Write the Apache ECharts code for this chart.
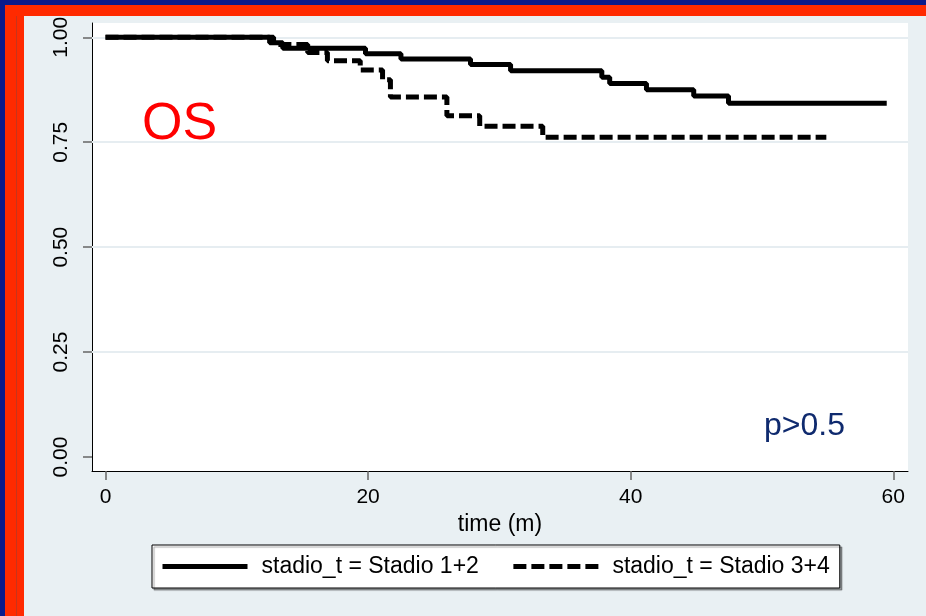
<!DOCTYPE html>
<html>
<head>
<meta charset="utf-8">
<script src="https://cdn.jsdelivr.net/npm/echarts@6/dist/echarts.min.js"></script>
<style>
html,body{margin:0;padding:0;background:#e9f0f3;}
#c{width:926px;height:616px;}
</style>
</head>
<body>
<div id="c"></div>
<script>
// Kaplan-Meier OS curves
var seriesNames = ['stadio_t = Stadio 1+2', 'stadio_t = Stadio 3+4'];
var timeStadio12 = [0, 12.5, 13.5, 19.8, 22.5, 27.8, 30.85, 37.8, 38.4, 41.2, 44.8, 47.45, 59.5];
var survStadio12 = [1.0, 0.987, 0.974, 0.961, 0.948, 0.935, 0.920, 0.905, 0.890, 0.875, 0.860, 0.843, 0.843];
var timeStadio34 = [0, 12.8, 15.4, 16.9, 19.4, 21.1, 21.7, 26.0, 28.5, 33.3, 54.9];
var survStadio34 = [1.0, 0.983, 0.964, 0.944, 0.922, 0.899, 0.858, 0.813, 0.788, 0.762, 0.762];
var xTicks = [0, 20, 40, 60];
var yTicks = [0, 0.25, 0.5, 0.75, 1];
var yTickLabels = ['0.00', '0.25', '0.50', '0.75', '1.00'];
var gridValues = [0.25, 0.5, 0.75, 1];

function pairs(t, s) { return t.map(function (v, i) { return [v, s[i]]; }); }

var FONT = 'Liberation Sans, Arial, Helvetica, sans-serif';
var chart = echarts.init(document.getElementById('c'), null, { renderer: 'canvas' });
chart.setOption({
  backgroundColor: '#e9f0f3',
  animation: false,
  grid: { left: 92, top: 23, right: 18, bottom: 145, show: true, backgroundColor: '#ffffff', borderWidth: 0 },
  xAxis: {
    type: 'value', min: -1.03, max: 61.12,
    name: 'time (m)', nameLocation: 'middle', nameGap: 36,
    nameTextStyle: { fontFamily: FONT, fontSize: 23, color: '#000' },
    axisLine: { show: true, onZero: false, lineStyle: { color: '#000', width: 1 } },
    axisTick: { show: true, length: 9, customValues: xTicks, lineStyle: { color: '#666', width: 1.5 } },
    axisLabel: { customValues: xTicks, margin: 16, fontFamily: FONT, fontSize: 21, color: '#000' },
    splitLine: { show: false }
  },
  yAxis: {
    type: 'value', min: -0.0333, max: 1.034,
    axisLine: { show: true, onZero: false, lineStyle: { color: '#000', width: 1 } },
    axisTick: { show: true, length: 9, customValues: yTicks, lineStyle: { color: '#666', width: 1.5 } },
    axisLabel: {
      customValues: yTicks, rotate: 90, margin: 20, fontFamily: FONT, fontSize: 21, color: '#000',
      formatter: function (v) { var i = yTicks.indexOf(v); return i >= 0 ? yTickLabels[i] : ''; }
    },
    splitLine: { show: false }
  },
  legend: {
    data: seriesNames,
    left: 152, top: 545,
    orient: 'horizontal',
    padding: [10, 10, 10, 8],
    itemWidth: 85, itemHeight: 23, itemGap: 32,
    backgroundColor: '#ffffff', borderColor: '#000', borderWidth: 1,
    shadowColor: 'rgba(0,0,0,0.35)', shadowOffsetX: 2, shadowOffsetY: 2, shadowBlur: 1,
    itemStyle: { opacity: 0 },
    lineStyle: { width: 5 },
    textStyle: { fontFamily: FONT, fontSize: 23, color: '#000', padding: [0, 0, 0, 9] }
  },
  series: [
    {
      name: 'grid', type: 'line', data: [], z: 1, silent: true,
      markLine: {
        z: 1, silent: true, symbol: 'none', label: { show: false },
        lineStyle: { color: '#e6edf1', width: 2, type: 'solid' },
        data: gridValues.map(function (v) { return { yAxis: v }; })
      }
    },
    {
      name: seriesNames[1], type: 'line', step: 'end', symbol: 'none', z: 3,
      data: pairs(timeStadio34, survStadio34),
      lineStyle: { color: '#000', width: 5, type: [13, 5] },
      itemStyle: { color: '#000' }
    },
    {
      name: seriesNames[0], type: 'line', step: 'end', symbol: 'none', z: 4,
      data: pairs(timeStadio12, survStadio12),
      lineStyle: { color: '#000', width: 5, type: 'solid' },
      itemStyle: { color: '#000' }
    }
  ],
  graphic: [
    { type: 'rect', silent: true, z: 100, shape: { x: 0, y: 0, width: 926, height: 5 }, style: { fill: '#0a1a8c' } },
    { type: 'rect', silent: true, z: 100, shape: { x: 0, y: 0, width: 5, height: 616 }, style: { fill: '#0a1a8c' } },
    { type: 'rect', silent: true, z: 101, shape: { x: 5, y: 5, width: 921, height: 11 }, style: { fill: '#ff2a00' } },
    { type: 'rect', silent: true, z: 101, shape: { x: 5, y: 5, width: 19, height: 611 }, style: { fill: '#ff2a00' } },
    { type: 'rect', silent: true, z: 102, shape: { x: 16, y: 16, width: 1, height: 600 }, style: { fill: '#c8341c' } },
    { type: 'text', silent: true, z: 110, style: { text: 'OS', x: 142, y: 125, font: '52px ' + FONT, fill: '#ff0000', textVerticalAlign: 'middle' } },
    { type: 'text', silent: true, z: 110, style: { text: 'p>0.5', x: 764, y: 426, font: '32px ' + FONT, fill: '#0f2a6e', textVerticalAlign: 'middle' } }
  ]
});
</script>
</body>
</html>
